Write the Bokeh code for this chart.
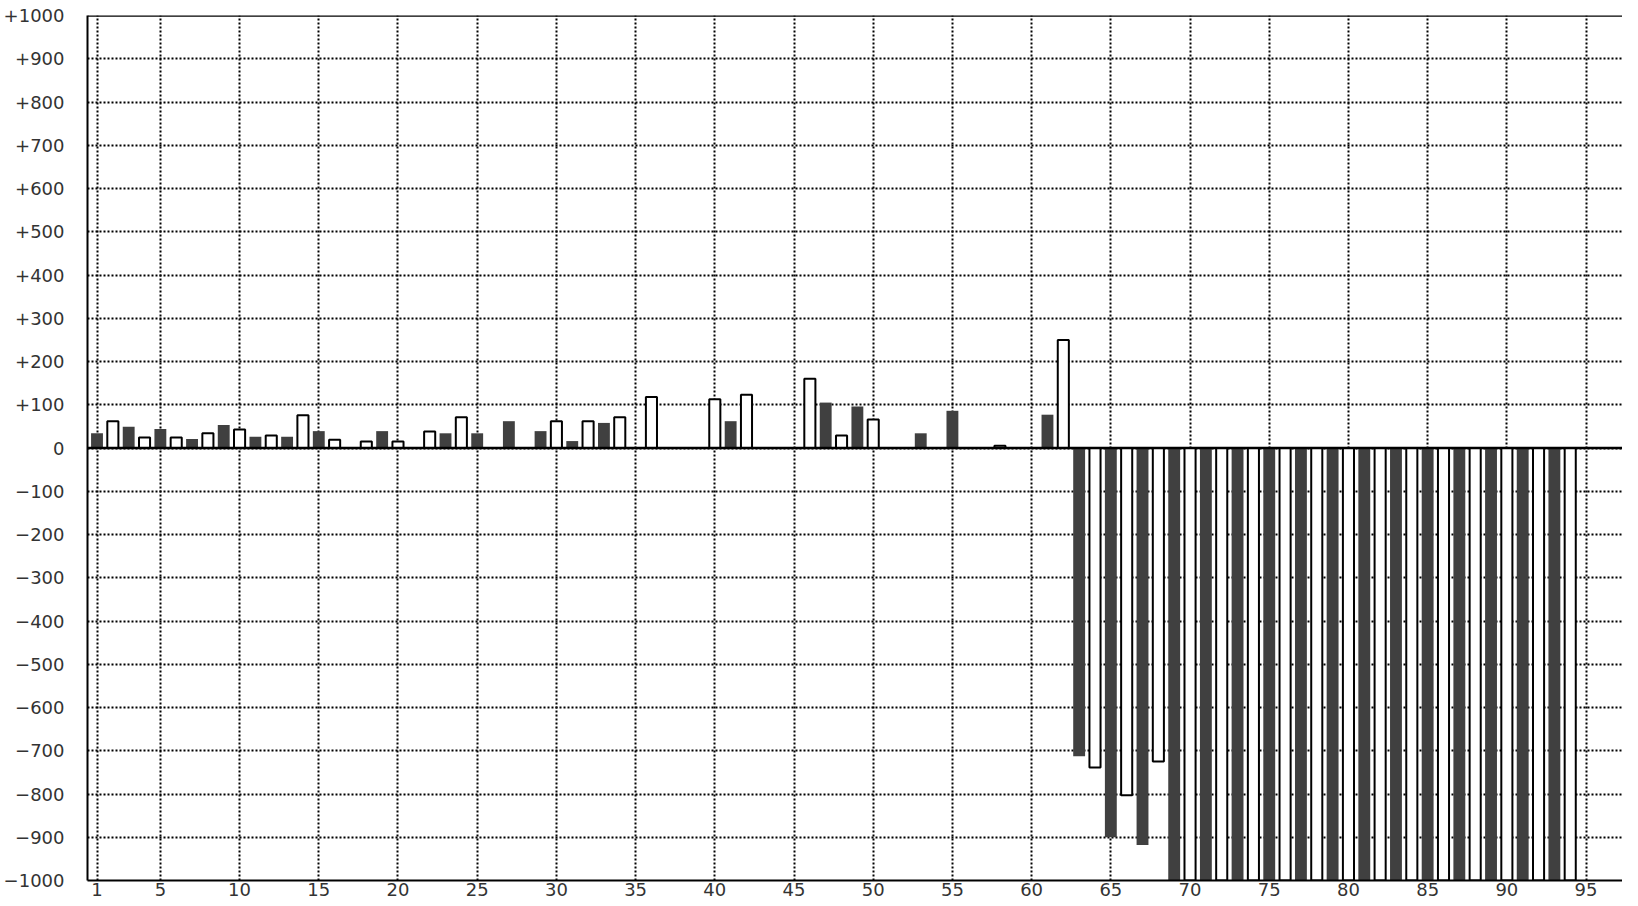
from bokeh.plotting import figure
from bokeh.models import FixedTicker, Span, ColumnDataSource
from bokeh.embed import file_html
from bokeh.resources import INLINE

# Dark bars sit on odd positions, white (outlined) bars on even positions
dark_x = [1, 3, 5, 7, 9, 11, 13, 15, 19, 23, 25, 27, 29, 31, 33, 41, 47, 49, 53, 55, 61,
          63, 65, 67, 69, 71, 73, 75, 77, 79, 81, 83, 85, 87, 89, 91, 93]
dark_values = [34, 49, 44, 21, 53, 26, 26, 39, 39, 34, 34, 62, 39, 16, 58, 62, 105, 96, 34, 86, 77,
               -713, -900, -918, -1000, -1000, -1000, -1000, -1000, -1000, -1000, -1000, -1000,
               -1000, -1000, -1000, -1000]

white_x = [2, 4, 6, 8, 10, 12, 14, 16, 18, 20, 22, 24, 30, 32, 34, 36, 40, 42, 46, 48, 50, 58, 62,
           64, 66, 68, 70, 72, 74, 76, 78, 80, 82, 84, 86, 88, 90, 92, 94]
white_values = [62, 24, 24, 34, 43, 29, 76, 19, 15, 15, 38, 71, 62, 62, 71, 118, 113, 123, 160, 29,
                66, 5, 250, -739, -803, -725, -1000, -1000, -1000, -1000, -1000, -1000, -1000,
                -1000, -1000, -1000, -1000, -1000, -1000]

x_ticks = [1, 5, 10, 15, 20, 25, 30, 35, 40, 45, 50, 55, 60, 65, 70, 75, 80, 85, 90, 95]
y_ticks = list(range(-1000, 1001, 100))
y_tick_labels = {t: ("0" if t == 0 else ("+%d" % t if t > 0 else "\u2212%d" % (-t))) for t in y_ticks}

FONT = "DejaVu Sans"

p = figure(width=1622, height=898, x_range=(0.4, 97.3), y_range=(-1000, 1000),
           output_backend="svg", toolbar_location=None,
           min_border_top=15, min_border_right=0, min_border_bottom=0, min_border_left=0)
p.outline_line_color = None
p.background_fill_color = "white"
p.border_fill_color = "white"

# grid
p.xgrid.ticker = FixedTicker(ticks=x_ticks)
p.ygrid.ticker = FixedTicker(ticks=y_ticks)
for g in (p.xgrid, p.ygrid):
    g.grid_line_color = "black"
    g.grid_line_width = 2
    g.grid_line_dash = "2 2"
    g.level = "underlay"

# axes
p.xaxis.ticker = FixedTicker(ticks=x_ticks)
p.yaxis.ticker = FixedTicker(ticks=y_ticks)
p.yaxis.major_label_overrides = y_tick_labels
for ax in (p.xaxis, p.yaxis):
    ax.axis_line_color = "black"
    ax.axis_line_width = 2
    ax.major_tick_line_color = None
    ax.minor_tick_line_color = None
    ax.major_tick_out = 0
    ax.major_tick_in = 0
    ax.major_label_text_font = FONT
    ax.major_label_text_font_size = "18px"
    ax.major_label_text_color = "#333333"
p.yaxis.major_label_standoff = 23
p.xaxis.major_label_standoff = 2

# bars
dark_src = ColumnDataSource(dict(x=dark_x, top=dark_values))
white_src = ColumnDataSource(dict(x=white_x, top=white_values))
p.vbar(x="x", top="top", bottom=0, width=0.75, source=dark_src,
       fill_color="#404040", line_color=None)
p.vbar(x="x", top="top", bottom=0, width=0.7, source=white_src,
       fill_color="white", line_color="black", line_width=2)

# zero line and top border
p.add_layout(Span(location=0, dimension="width", line_color="black", line_width=2.5))
p.add_layout(Span(location=1000, dimension="width", line_color="black", line_width=2.5))

open("out.html", "w").write(file_html(p, INLINE))
